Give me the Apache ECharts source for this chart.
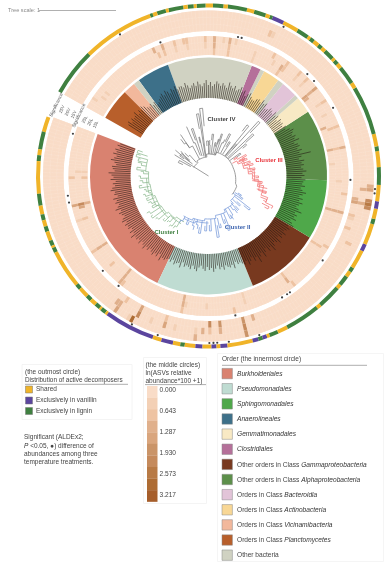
<!DOCTYPE html>
<html><head><meta charset="utf-8">
<script src="https://cdn.jsdelivr.net/npm/echarts@6/dist/echarts.min.js"></script>
<style>html,body{margin:0;padding:0;background:#fff}#c{width:389px;height:562px;filter:blur(.45px)}</style>
</head><body><div id="c"></div>
<script>
// ---------- data ----------
const orderNames=['Burkholderiales','Pseudomonadales','Other orders in Class Gammaproteobacteria','Sphingomonadales','Other orders in Class Alphaproteobacteria','Gemmatimonadales','Other bacteria','Orders in Class Bacteroidia','Other bacteria','Orders in Class Actinobacteria','Other bacteria','Clostridiales','Other bacteria','Anaerolineales','Other bacteria','Orders in Class Vicinamibacteria','Orders in Class Planctomycetes'];
const orderColors=['#d98270','#bfdcd2','#78391f','#4fa84a','#5c8f4a','#f8e9c4','#d0d2c2','#e2c4d8','#d0d2c2','#f8d795','#d0d2c2','#b5709a','#d0d2c2','#3d7089','#d0d2c2','#f2b89c','#b85f2b'];
const orderEndDeg=[244.5,292,328.7,358,32.9,41,43,51,54,62,64,68.6,110,126,129,135,150.6];
const orderStartDeg=159.3;
const leafCount=270, leafSpanDeg=351.3;
const labelEnd=[
 94,96,93,97,95,98,94,96,99,95,93,97,96,94,100,97,95,98,93,96,94,97,99,95,96,93,98,95,97,94,
 96,99,94,97,95,93,96,98,94,97,95,96,93,97,94,99,95,96,94,97,93,95,98,94,96,93,95,97,94,96,92,98,94,95,93,
 92,94,91,95,93,92,96,90,94,92,93,95,91,94,96,92,90,93,95,91,94,92,96,93,90,94,92,95,91,93,94,92,96,90,93,92,94,
 96,93,98,95,92,97,94,101,96,93,99,95,92,97,94,100,96,93,95,98,92,96,94,97,93,95,
 97,94,99,96,93,98,95,97,94,100,96,93,95,98,94,97,93,96,99,95,93,97,94,
 95,97,93,96,94,98,95,93,96,94,97,92,95,105,94,97,93,96,95,92,98,94,96,93,95,97,94,
 90,92,89,91,90,92, 88, 92,90,93,89,91,92, 89,88, 93,91,94,90,92,91, 88,88, 90,93,91,88,
 93,91,95,92,90,94,91,93,96,90,92,94,91,93,95,92,90,94,91,96,93,90,92,95,91,94,92,90,93,96,92,94,
 94,92,96,93,95,91,94,96,92,95,93,91, 89,88, 92,90,93,91,92, 95,97,94,96,93,98,95,94,96,93,97,95];
const abundanceTicks=['0.000','0.643','1.287','1.930','2.573','3.217'];
const abundanceMax=3.217;
const abundanceColors=['#f9dcc7','#f3d0b5','#eec3a2','#e0b08c','#d9a57d','#ca9468','#c58a5c','#b87a45','#ae6c33','#a65e2b'];
// [degree, row (0 = innermost), abundance]
const innerRingHot=[[144,1,.5],[143,1,.4],[141,1,.4],[146,2,.3],[113,2,1],[112,1,.8],[110,2,1.1],[110,1,.7],[105,2,.8],[105,1,.5],[101,2,.6],[99,2,.7],[99,1,.5],[91,2,.7],[91,1,.5],[87,2,1.1],[87,1,1],[87,0,.8],[84,2,.5],[81,2,.9],[81,1,.8],[81,0,.6],[78,2,.5],[69,1,.5],[69,0,.4],[61,2,.6],[60,1,.5],[56,1,1.1],[55,1,.8],[55,2,.8],[56,0,.7],[49,2,.7],[49,1,.5],[45,2,.6],[45,1,.5],[39.5,2,1.4],[39.5,1,1],[39.5,0,1.4],[38,0,.9],[33,2,.8],[33,1,.5],[28,1,.5],[22,0,.9],[21,2,.8],[20.5,1,.7],[12,0,1],[12,2,1],[11.5,1,.8],[6,0,.5],[345,0,.9],[345,1,1.2],[345,2,1],[328,0,.8],[328,1,.7],[329,2,.8],[358,1,.4],[352.4,2,.7],[307.5,1,1],[307.5,0,.8],[308,2,.6],[286,0,.5],[286,1,.5],[281,2,.8],[268.7,1,.4],[181,0,.8],[181,2,.7],[178,0,.5],[178,1,.4],[193,0,1],[193,1,3],[193,2,1.5],[192,1,2],[194,1,1.6],[199,1,.7],[199,2,.5],[213,0,1.1],[213,1,1],[213,2,.8],[222.5,1,.6],[229.6,0,1],[229.6,1,1],[229.6,2,.9],[231,2,.8],[258.7,0,1.1],[258.7,1,1],[258.7,2,.7],[260,1,.5]];
const outerRingHot=[[67,1,.7],[66,1,.5],[235,1,1.2],[235,2,1.4],[234,1,.9],[237,0,.6],[243,0,1.3],[243,1,.9],[242,2,2.8],[242.8,1,2.2],[241,2,.5],[248,1,.5],[253,1,1.3],[254,0,.6],[257,1,.4],[265,1,.5],[265,2,.9],[268,1,1],[270.4,0,2],[270.4,1,.8],[274,0,1.7],[274,1,1],[283,0,1.7],[283,1,2],[283,2,2],[284,2,1.9],[287.5,0,1],[339,0,1],[340,0,.7],[333.7,1,.6],[350,2,2.5],[351,2,2],[349,2,2],[350,1,1.2],[350,0,1.3],[351.5,0,1.1],[354.5,2,1.6],[354.5,1,.9],[356,2,1],[344.8,0,.8],[343,0,.5]];
// significance dots [radius, degree]
const dotsInner=[[142,109.8],[142,162.7],[142,78],[142,76.5],[142,45.9],[142,42],[142,28.7],[142,358.4],[142,188],[142,190.8],[142,221.9],[142,230.7],[142,323.5],[142,305],[142,303.6],[142,301.2],[142,280.9]];
const dotsOuter=[[167,122],[167,63.3],[167,242.7],[167,252.3],[167,355.5],[167,354],[167,287.7],[167,277],[167,273],[167,271.7],[167,270.3]];
// outmost circle: [end degree, class] 0 shared 1 vanillin 2 lignin, walking from 159.8 counter-clockwise
const distNames=['Shared','Exclusively in vanillin','Exclusively in lignin'];
const distColors=['#f0b429','#5b459e','#3f8040'];
const distStartDeg=159.8;
const distSegments=[[165,0],[171,2],[173,0],[175,2],[186,0],[190,2],[193,0],[195,2],[197.2,0],[199,2],[202.2,0],[204,2],[204.8,0],[206.5,2],[219.5,0],[221.3,2],[224.7,0],[226.5,2],[228.7,0],[230.5,2],[231.2,0],[233,2],[233.8,0],[251,1],[254,0],[258,1],[260.5,0],[262,2],[265.6,0],[268,1],[271,0],[272.7,1],[274,0],[276.4,1],[285,0],[287,1],[288.5,2],[290,1],[291,0],[294,2],[297.5,0],[309.5,2],[311,0],[319,2],[320.5,0],[324,2],[326,0],[327.6,2],[334,0],[336.5,1],[343.7,0],[345.5,2],[349,0],[351.5,1],[357,0],[363,2],[368.4,0],[370,2],[374.3,0],[391,2],[393,0],[399.3,2],[401,0],[402.5,2],[403.5,0],[407,2],[408.5,0],[410,2],[412,0],[413.5,2],[414.5,0],[418.6,2],[424,0],[428,1],[429,2],[430.5,0],[434.5,2],[437,0],[443.5,2],[445,0],[448.5,2],[451,0],[454,2],[455,0],[457,2],[458.5,0],[463.5,2],[464.5,0],[467.5,2],[469,0],[470,2],[494.5,0],[510.6,2]];
// tree: polylines of [radius, degree]; twigs [degree, r0, r1, hook degree, r2]
const stemGray=[[[0,148],[40,148]],[[17,128],[19,128],[19,95],[22,95],[22,72],[25,72],[26,40],[26,18],[27,0],[28,345],[30,340],[30,322]],[[17,128],[17,150]],[[20,143],[30,143],[42,142]],[[24,143],[37,138]]];
const twigGray=[[99,19,63,101,48],[97.5,20,68,95,50],[108,21,50,110,38],[112,22,36,114,54],[118,19,34,124,50],[124,34,40,127,46],[132,18,28,136,33],[90,22,35,93,30],[83,22,42,85,36],[79,22,34,77,30],[71.5,22,44,73,36],[68,25,36,66,40],[62,26,47,64,38],[57,26,40,59,34],[50,26,42,48,36],[51,26,64,53,56],[47.7,26,74,46,60],[43.7,26,61,42,50],[41,26,49,39,44],[36,26,39,34,34],[75,22,38,74,33],[87,22,31,88,36],[103,20,40,104,34],[140,24,35,145,30],[152,20,33,156,28]];
const stemGreen=[[[52,242],[52,232],[54,232],[54,222],[56,222],[56,212],[57,212],[57,200],[59,200],[59,188],[60,188],[60,176],[63,176],[63,165]],[[55,240],[55,226],[58,226],[58,210],[60,210],[60,196],[62,196],[62,182]]];
const twigGreen=[[238,52,60,236,63],[234,54,62,232,64],[230,54,60,228,62],[226,56,63,224,61],[221,56,66,219,68],[217,56,70,215,68],[213,57,69,211,72],[210,57,64,208,60],[206,57,63,204,66],[202,58,66,200,63],[198,59,66,196,68],[194,59,64,192,66],[190,60,70,188,67],[186,60,66,184,69],[182,60,68,180,70],[178,60,65,176,68],[175,63,72,173,68],[171,63,68,169,72],[168,63,72,166,70],[165,63,75,163,71],[162,64,75,160,70]];
const stemBlue=[[[47,238],[47,250],[45,250],[45,265],[43,265],[43,280],[40,280],[40,295],[37,295],[37,312],[33,312],[33,325],[30,325]],[[49,240],[49,254],[47,254],[47,270]]];
const twigBlue=[[240,47,52,238,55],[245,47,53,247,50],[252,45,52,254,56],[256,45,50,258,54],[262,45,58,260,52],[268,45,55,266,50],[273,43,55,271,49],[278,43,62,280,50],[282,43,53,284,49],[288,40,50,290,46],[292,40,58,290,52],[297,37,48,299,44],[302,37,46,300,50],[306,37,42,308,47],[310,35,45,312,40],[316,33,43,318,38],[322,33,53,320,46],[328,31,38,330,34],[325,33,41,327,37]];
const stemRed=[[[27,28],[32,28],[32,22],[36,22],[36,12],[40,12],[40,3],[44,3],[44,356],[50,356],[50,348],[56,348],[56,340],[63,340],[63,335],[68,335]],[[34,26],[38,26],[38,16],[42,16],[42,8],[46,8],[46,354],[52,354],[52,344],[60,344]]];
const twigRed=[[32,30,34,34,30],[30,33,43,28,38],[27,34,40,25,37],[25,32,42,23,36],[20,36,44,18,40],[16,36,46,14,42],[10,40,47,8,44],[6,40,44,4,47],[0,44,50,358,47],[354,44,54,352,50],[350,50,56,348,60],[345,50,60,343,56],[338,56,63,336,60],[333,60,68,331,64],[335,68,71,333,70]];
const clusterLabels=[['Cluster IV',221.5,119.5,'#444'],['Cluster III',269,160,'#e8333a'],['Cluster II',237.5,227.5,'#3a62ae'],['Cluster I',166.5,232,'#3f8040']];
const gapTexts=[['Significance',143,155],['25L',136,155.5],['20L',130,155.5],['15L',124,155.5],['Significance',168,155],['25V',161,155.5],['20V',154.5,155.5],['15V',148,155.5]];
const middleTitle=['(the middle circles)','ln(ASVs relative','abundance*100 +1)'];
const noteLines=['Significant (ALDEx2;','{i|P} <0.05, \u25CF) difference of','abundances among three','temperature treatments.'];
const legendOrder=[['{n|Burkholderiales}','#d98270'],['{n|Pseudomonadales}','#bfdcd2'],['{n|Sphingomonadales}','#4fa84a'],['{n|Anaerolineales}','#3d7089'],['{n|Gemmatimonadales}','#f8e9c4'],['{n|Clostridiales}','#b5709a'],['Other orders in Class {n|Gammaproteobacteria}','#78391f'],['Other orders in Class {n|Alphaproteobacteria}','#5c8f4a'],['Orders in Class {n|Bacteroidia}','#e2c4d8'],['Orders in Class {n|Actinobacteria}','#f8d795'],['Orders in Class {n|Vicinamibacteria}','#f2b89c'],['Orders in Class {n|Planctomycetes}','#b85f2b'],['Other bacteria','#d0d2c2']];

// ---------- build ----------
const CX=208.5, CY=176, RMAX=175, FONT='"Liberation Sans",Arial,sans-serif';
const RING={label:[78,118.5],inner:[121,140],outer:[145,165.5],dist:[168.5,172.5]};
const step=leafSpanDeg/leafCount;
const norm=d=>((d%360)+360)%360;
const leafOf=d=>Math.floor(((d-orderStartDeg+720)%360)/step);
function abundColor(v){return abundanceColors[Math.min(9,Math.round(v/abundanceMax*9))];}

function sectorSeries(items,colorOf,stroke,z){
  return {type:'custom',coordinateSystem:'polar',z:z||2,animation:false,silent:true,progressive:0,
    encode:{radius:0,angle:2},data:items,
    renderItem(params,api){
      const cs=params.coordSys,r0=api.value(0),r1=api.value(1);
      const a=d=>{const p=api.coord([r1,norm(d)]);return Math.atan2(p[1]-cs.cy,p[0]-cs.cx);};
      return {type:'sector',shape:{cx:cs.cx,cy:cs.cy,r0:r0,r:r1,startAngle:a(api.value(2)),endAngle:a(api.value(3)),clockwise:false},
        style:{fill:colorOf(api.value(4)),stroke:stroke||null,lineWidth:stroke?0.4:0}};
    }};
}
// innermost order ring
const orderItems=[];let prev=orderStartDeg;
orderEndDeg.forEach((e,i)=>{let end=e;while(end<prev)end+=360;orderItems.push([RING.label[0],RING.label[1],prev,end,i]);prev=end;});
// abundance cells, on one continuous peach band so no seams show
const bandEnd=orderStartDeg+leafSpanDeg;
const bandItems=[[RING.inner[0],RING.inner[1],orderStartDeg,bandEnd,0],[RING.outer[0],RING.outer[1],orderStartDeg,bandEnd,0]];
function ringItems(edge,hot){
  const rows=[0,1,2].map(()=>new Array(leafCount).fill(0));
  hot.forEach(h=>{const l=leafOf(h[0]);if(l>=0&&l<leafCount)rows[h[1]][l]=h[2];});
  const out=[],w=(edge[1]-edge[0])/3;
  rows.forEach((row,k)=>row.forEach((v,l)=>{const d=orderStartDeg+l*step;out.push([edge[0]+k*w,edge[0]+(k+1)*w,d,d+step,v]);}));
  return out;
}
// outmost distribution ring
const distItems=[];let dp=distStartDeg;
distSegments.forEach(s=>{distItems.push([RING.dist[0],RING.dist[1],dp,s[0],s[1]]);dp=s[0];});
// tree
function twig(t){return [[t[1],t[0]],[t[2],t[0]],[t[2],t[3]],[t[4],t[3]]];}
const branches=[];
function addTree(stems,twigs,color,w){stems.concat(twigs.map(twig)).forEach(p=>branches.push({p,color,w}));}
addTree(stemGray,twigGray,'#7c7c7c',.75);
addTree(stemGreen,twigGreen,'#8dba90',.75);
addTree(stemBlue,twigBlue,'#7f9fdc',.8);
addTree(stemRed,twigRed,'#f27a7a',.8);
const shortDelta=(a,b)=>{let d=(b-a)%360;if(d>180)d-=360;if(d<-180)d+=360;return d;};

const series=[
  sectorSeries(orderItems,i=>orderColors[i],null,2),
  sectorSeries(bandItems,abundColor,null,2),
  sectorSeries(ringItems(RING.inner,innerRingHot),abundColor,'rgba(255,255,255,.16)',2),
  sectorSeries(ringItems(RING.outer,outerRingHot),abundColor,'rgba(255,255,255,.16)',2),
  sectorSeries(distItems,i=>distColors[i],null,2),
  {type:'custom',coordinateSystem:'polar',z:3,animation:false,silent:true,progressive:0,encode:{radius:0,angle:1},
   data:labelEnd.map((r,i)=>[r,norm(orderStartDeg+(i+.5)*step)]),
   renderItem(params,api){
     const a=api.coord([RING.label[0],api.value(1)]),b=api.coord([api.value(0),api.value(1)]);
     return {type:'line',shape:{x1:a[0],y1:a[1],x2:b[0],y2:b[1]},style:{stroke:'rgba(35,25,18,.62)',lineWidth:.95}};
   }},
  {type:'custom',coordinateSystem:'polar',z:4,animation:false,silent:true,progressive:0,encode:{radius:0,angle:1},
   data:branches.map((b,i)=>[b.p[0][0],norm(b.p[0][1]),i]),
   renderItem(params,api){
     const b=branches[api.value(2)],pts=[];
     for(let i=0;i<b.p.length;i++){
       if(i){const A=b.p[i-1],B=b.p[i],dl=shortDelta(A[1],B[1]),n=Math.max(1,Math.ceil(Math.abs(dl)/4));
         for(let k=1;k<=n;k++)pts.push(api.coord([A[0]+(B[0]-A[0])*k/n,norm(A[1]+dl*k/n)]));}
       else pts.push(api.coord([b.p[0][0],norm(b.p[0][1])]));
     }
     return {type:'polyline',shape:{points:pts},style:{stroke:b.color,lineWidth:b.w,fill:null}};
   }},
  {type:'scatter',coordinateSystem:'polar',z:5,animation:false,silent:true,symbolSize:2.2,itemStyle:{color:'#111'},data:dotsInner.concat(dotsOuter)},
  {type:'custom',coordinateSystem:'polar',z:5,animation:false,silent:true,progressive:0,encode:{radius:0,angle:1},
   data:gapTexts.map((t,i)=>[t[1],t[2],i]),
   renderItem(params,api){
     const t=gapTexts[api.value(2)],p=api.coord([t[1],t[2]]);
     return {type:'text',x:p[0],y:p[1],rotation:65*Math.PI/180,style:{text:t[0],fontSize:t[0].length>3?4.8:4.6,fontFamily:FONT,fill:'#555',align:'center',verticalAlign:'middle'}};
   }}
];

// ---------- legends (graphic) ----------
const g=[];
const T=(x,y,text,o)=>g.push(Object.assign({type:'text',x,y,silent:true,style:Object.assign({text,fontSize:6.5,fontFamily:FONT,fill:'#444',verticalAlign:'middle',rich:{i:{fontStyle:'italic',fontSize:6.5,fontFamily:FONT,fill:'#333'},n:{fontStyle:'italic',fontSize:6.6,fontFamily:FONT,fill:'#333'}}},o||{})}));
const R=(x,y,w,h,fill,stroke,lw)=>g.push({type:'rect',silent:true,shape:{x,y,width:w,height:h},style:{fill,stroke:stroke||null,lineWidth:lw||0}});
const L=(x1,y1,x2,y2,c,w)=>g.push({type:'line',silent:true,shape:{x1,y1,x2,y2},style:{stroke:c,lineWidth:w}});
// tree scale
T(8,10.5,'Tree scale: 1',{fill:'#8a8a8a',fontSize:5.6});
L(39,10.5,116,10.5,'#b0b0b0',1.2);
clusterLabels.forEach(c=>T(c[1],c[2],c[0],{fill:c[3],fontSize:6,fontWeight:'bold',align:'center'}));
// distribution box
R(22,364.5,110,55,'#fff','#f1f1f1',.8);
T(25,372.5,'(the outmost circle)');
T(25,380.5,'Distribution of active decomposers',{fontSize:6.4});
L(25,384.3,128,384.3,'#777',.6);
distNames.forEach((n,i)=>{const y=[386,397,407.5][i];R(25.5,y,7,7,distColors[i],'#777',.5);T(36,y+3.7,n);});
// note
noteLines.forEach((s,i)=>T(24,[437.5,446,454,462][i],s,{fontSize:6.5}));
// abundance box
R(143.5,357.5,63,146,'#fff','#f1f1f1',.8);
middleTitle.forEach((s,i)=>T(145.5,[365,373.5,381.5][i],s));
L(145,384.6,206,384.6,'#777',.6);
abundanceColors.forEach((c,i)=>R(147,386+i*11.57,10.5,11.7,c));
abundanceTicks.forEach((s,i)=>T(159.5,[390,411.5,432.5,453.5,474.5,495.5][i],s,{fontSize:6.6}));
// order box
R(217.5,353.5,166,208,'#fff','#f3f3f3',.8);
T(222,359.5,'Order (the innermost circle)',{fontSize:6.5});
L(222,365.3,367,365.3,'#777',.6);
legendOrder.forEach((o,i)=>{const y=368.4+i*15.13;R(222,y,10.4,10.4,o[1],'#888',.5);T(237,y+5.6,o[0],{fontSize:6.6});});

const chart=echarts.init(document.getElementById('c'),null,{renderer:'canvas'});
chart.setOption({
  animation:false,backgroundColor:'#fff',
  polar:{center:[CX,CY],radius:RMAX},
  angleAxis:{type:'value',min:0,max:360,startAngle:0,clockwise:false,show:false},
  radiusAxis:{type:'value',min:0,max:RMAX,show:false},
  series,graphic:{elements:g}
});
</script></body></html>
